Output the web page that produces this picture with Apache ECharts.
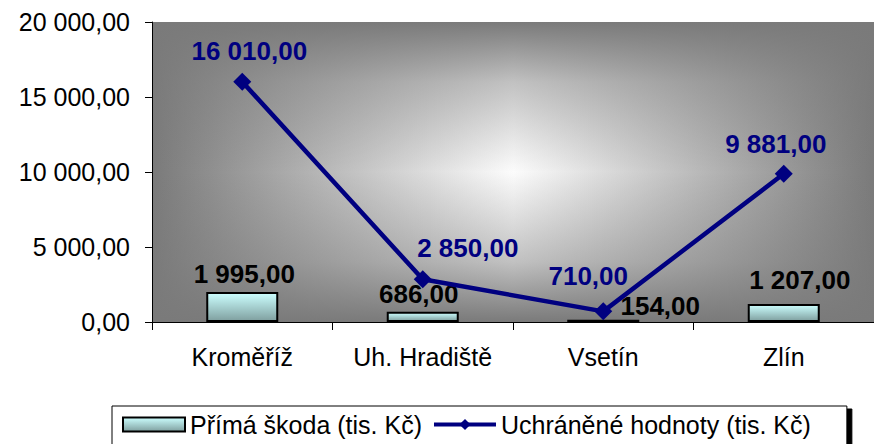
<!DOCTYPE html>
<html>
<head>
<meta charset="utf-8">
<script src="https://cdn.jsdelivr.net/npm/echarts@6/dist/echarts.min.js"></script>
<style>
html, body { margin: 0; padding: 0; background: #fff; }
#chartContainer { width: 874px; height: 444px; }
</style>
</head>
<body>
<div id="chartContainer"></div>
<script>
// data
var districts = ['Kroměříž', 'Uh. Hradiště', 'Vsetín', 'Zlín'];
var directDamage = [1995, 686, 154, 1207];
var savedValues = [16010, 2850, 710, 9881];
var damageName = 'Přímá škoda (tis. Kč)';
var savedName = 'Uchráněné hodnoty (tis. Kč)';

var font = 'Liberation Sans, Arial, sans-serif';

function czNumber(v) {
    var parts = Math.round(v).toString().replace(/\B(?=(\d{3})+(?!\d))/g, ' ');
    return parts + ',00';
}

var myChart = echarts.init(document.getElementById('chartContainer'), null, { renderer: 'svg' });

var barFill = new echarts.graphic.LinearGradient(0, 0, 0, 1, [
    { offset: 0, color: '#ccffff' },
    { offset: 1, color: '#7f9f9f' }
]);

// label tweaks so labels sit where the original has them
var barLabelOffsets = [[2, 0], [-4, 0], [57, 4], [16, -6]];
var lineLabelOffsets = [[7, 0], [45, 0], [-15, -4], [-8, 1]];

var barData = directDamage.map(function (v, i) {
    return { value: v, label: { offset: barLabelOffsets[i] } };
});
var lineData = savedValues.map(function (v, i) {
    return { value: v, label: { offset: lineLabelOffsets[i] } };
});

var plotLeft = 152, plotTop = 22, plotW = 728, plotH = 300;

myChart.setOption({
    animation: false,
    textStyle: { fontFamily: font },
    grid: {
        left: plotLeft,
        right: 874 - plotLeft - plotW,
        top: plotTop,
        bottom: 444 - plotTop - plotH,
        show: true,
        borderWidth: 0,
        backgroundColor: new echarts.graphic.LinearGradient(0, 0, 1, 0, [
            { offset: 0, color: '#7a7a7a' },
            { offset: 0.5, color: '#fcfcfc' },
            { offset: 1, color: '#7a7a7a' }
        ])
    },
    // vertical shading on top of the horizontal one -> "from centre" look
    graphic: [{
        type: 'rect',
        silent: true,
        z: 1,
        shape: { x: plotLeft, y: plotTop, width: plotW, height: plotH },
        style: {
            fill: new echarts.graphic.LinearGradient(0, 0, 0, 1, [
                { offset: 0, color: 'rgba(122,122,122,1)' },
                { offset: 0.2, color: 'rgba(122,122,122,0.45)' },
                { offset: 0.5, color: 'rgba(122,122,122,0)' },
                { offset: 0.8, color: 'rgba(122,122,122,0.45)' },
                { offset: 1, color: 'rgba(122,122,122,1)' }
            ])
        }
    }],
    legend: {
        top: 406,
        left: 112,
        itemGap: 10,
        itemWidth: 62,
        itemHeight: 14,
        padding: [6, 36, 10, 10],
        borderColor: '#000',
        borderWidth: 1,
        backgroundColor: '#fff',
        shadowColor: '#000',
        shadowOffsetX: 5,
        shadowOffsetY: 3,
        shadowBlur: 0,
        textStyle: { fontSize: 25, color: '#000', fontFamily: font },
        data: [
            { name: damageName, icon: 'rect' },
            { name: savedName, itemStyle: { color: '#000080' }, lineStyle: { width: 4, color: '#000080' } }
        ]
    },
    xAxis: {
        type: 'category',
        data: districts,
        z: 5,
        axisLine: { lineStyle: { color: '#000', width: 1 } },
        axisTick: { show: true, interval: 0, length: 8, lineStyle: { color: '#000' } },
        axisLabel: { interval: 0, color: '#000', fontSize: 25, margin: 22, fontFamily: font }
    },
    yAxis: {
        type: 'value',
        min: 0,
        max: 20000,
        interval: 5000,
        z: 5,
        axisLine: { show: true, lineStyle: { color: '#000', width: 1 } },
        axisTick: { show: true, length: 7, lineStyle: { color: '#000' } },
        splitLine: { show: false },
        axisLabel: { color: '#000', fontSize: 25, margin: 22, fontFamily: font, formatter: czNumber }
    },
    series: [{
        name: damageName,
        type: 'bar',
        data: barData,
        barWidth: 72,
        itemStyle: { color: barFill, borderColor: '#000', borderWidth: 2 },
        label: {
            show: true,
            position: 'top',
            distance: 5,
            color: '#000',
            fontSize: 26,
            fontWeight: 'bold',
            fontFamily: font,
            formatter: function (p) { return czNumber(p.value); }
        }
    }, {
        name: savedName,
        type: 'line',
        data: lineData,
        symbol: 'diamond',
        symbolSize: 18,
        lineStyle: { color: '#000080', width: 4.5 },
        itemStyle: { color: '#000080' },
        label: {
            show: true,
            position: 'top',
            distance: 9,
            color: '#000080',
            fontSize: 26,
            fontWeight: 'bold',
            fontFamily: font,
            formatter: function (p) { return czNumber(p.value); }
        }
    }]
});
</script>
</body>
</html>
